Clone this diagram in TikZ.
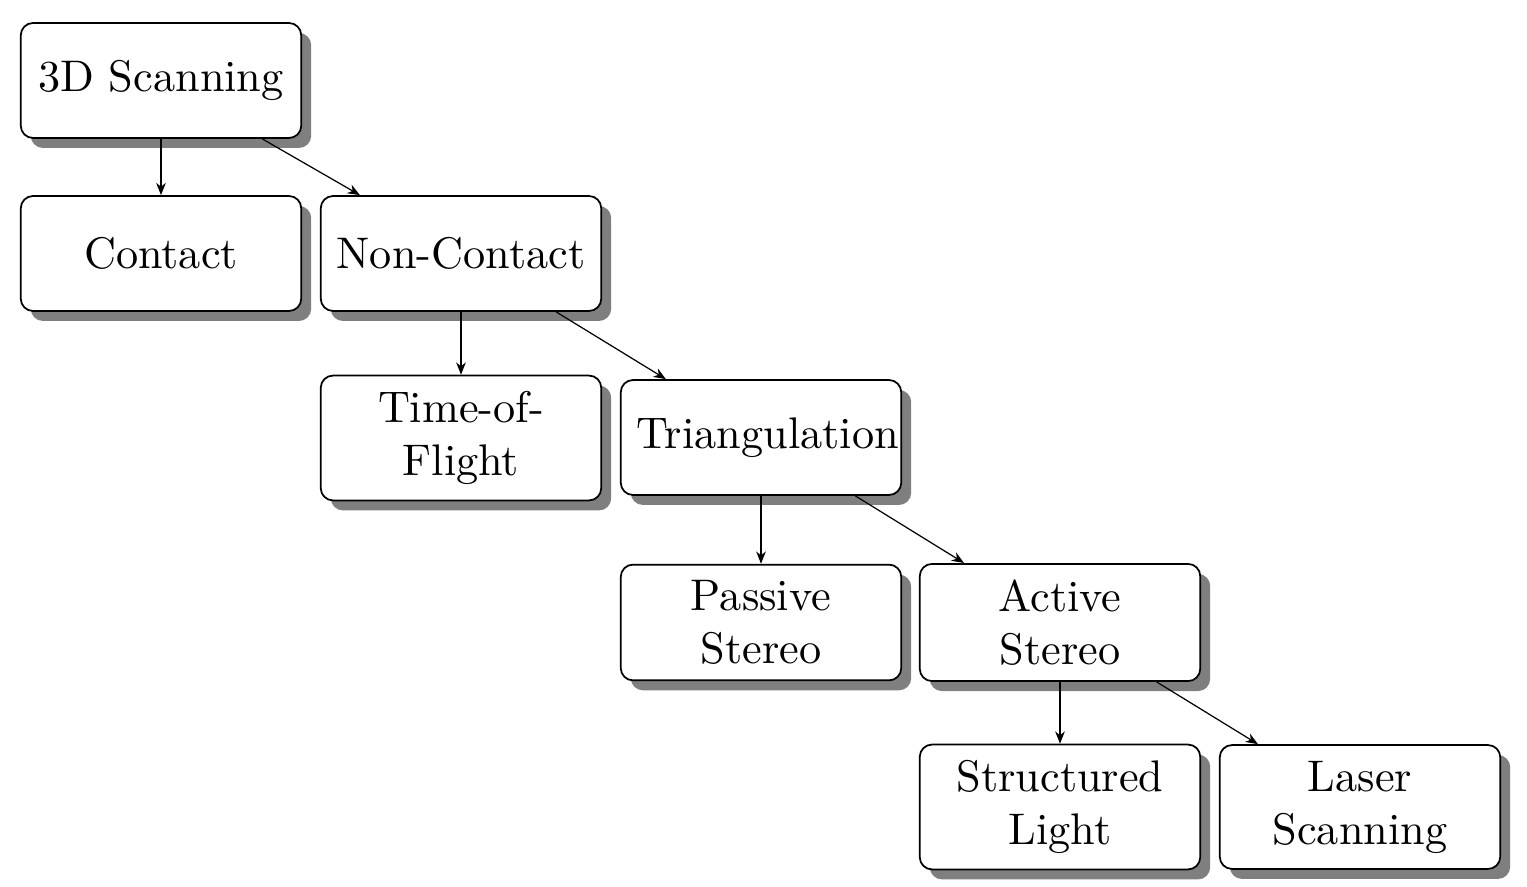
\documentclass[tikz,border=0pt]{standalone}
\usepackage{fontspec}
\newfontfamily\lmten{lmroman10-regular}[Extension=.otf]
\usetikzlibrary{shadows,arrows.meta}
\begin{document}
\begin{tikzpicture}[x=0.5714pt,y=-0.5714pt,
  box/.style={draw, line width=1pt, rounded corners=7pt, fill=white, text width=5cm,
    align=center, inner sep=9pt, minimum height=65.7pt, font=\lmten\fontsize{25.3}{30.3}\selectfont,
    drop shadow={shadow xshift=5.7pt, shadow yshift=-5.7pt, opacity=0.5, fill=black}},
  conn/.style={-{Stealth[length=7pt,width=5.5pt,inset=2.2pt]}, line width=0.7pt}]
\useasboundingbox (0,0) rectangle (1527,887);
\node[box] (scan) at (161,80.5) {3D Scanning};
\node[box] (contact) at (161,253.5) {Contact};
\node[box] (noncontact) at (461,253.5) {Non-Contact};
\node[box] (tof) at (461,438) {Time-of-Flight};
\node[box] (tri) at (761,437.5) {Triangulation};
\node[box] (passive) at (761,622.5) {Passive Stereo};
\node[box] (active) at (1060,622.5) {Active Stereo};
\node[box] (struct) at (1060,807) {Structured Light};
\node[box] (laser) at (1360,807) {Laser Scanning};
\draw[conn] (scan) -- (contact);
\draw[conn] (scan) -- (noncontact);
\draw[conn] (noncontact) -- (tof);
\draw[conn] (noncontact) -- (tri);
\draw[conn] (tri) -- (passive);
\draw[conn] (tri) -- (active);
\draw[conn] (active) -- (struct);
\draw[conn] (active) -- (laser);
\end{tikzpicture}
\end{document}
